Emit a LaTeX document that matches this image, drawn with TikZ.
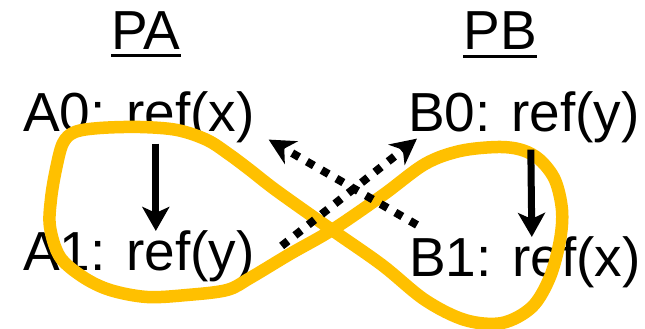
\documentclass[tikz,border=0pt]{standalone}
\usepackage{fontspec}
\setmainfont{Liberation Sans}
\usepackage{xcolor}
\usetikzlibrary{arrows.meta}
\definecolor{loopgold}{HTML}{FFC000}
\tikzstyle{instr}=[inner sep=0pt, anchor=base west, font=\fontsize{55}{66}\selectfont]
\tikzstyle{proc}=[inner sep=0pt, anchor=base, font=\fontsize{55}{66}\selectfont]
\tikzstyle{uline}=[line width=3pt]
\tikzstyle{po}=[line width=7pt, -{Stealth[length=24pt,width=27pt,inset=6pt]}]
\tikzstyle{rf}=[line width=8pt, dash pattern=on 8pt off 9pt, -{Stealth[length=26pt,width=26pt,inset=8pt]}]
\tikzstyle{eightloop}=[line width=12.5pt, loopgold, line join=round]

\begin{document}
\begin{tikzpicture}[x=1pt,y=1pt]
	\useasboundingbox (0,0) rectangle (645,329);
	\node[proc] (pa) at (146,279) {PA};
	\node[proc] (pb) at (500,279) {PB};
	\draw[uline] ([yshift=-6pt]pa.base west) -- ([yshift=-6pt]pa.base east);
	\draw[uline] ([yshift=-7pt]pb.base west) -- ([yshift=-7pt]pb.base east);
%
	\node[instr] (a0) at (23,197) {A0: ref(x)};
	\node[instr] (a1) at (23,58) {A1: ref(y)};
	\node[instr] (b0) at (408,197) {B0: ref(y)};
	\node[instr] (b1) at (409,52) {B1: ref(x)};
%
	\draw[eightloop] plot[smooth cycle, tension=0.55] coordinates {
		(332,99) (383,134) (425,165) (460,178) (498,182) (522,179)
		(540,169) (555,149) (562,119) (560,89) (550,52) (532,22)
		(502,6) (465,9) (425,29) (382,64) (332,99) (277,138)
		(250,159) (230,174) (207,189) (177,199) (140,202) (100,201)
		(75,197) (63,186) (56,160) (51,130) (50,102) (60,72)
		(83,52) (110,39) (147,32) (187,34) (227,39) (250,51) (290,75)};
%
	\draw[po] ([xshift=17pt]a0.south) -- ([xshift=17pt]a1.north);
	\draw[po] ([xshift=7pt,yshift=-6pt]b0.south) -- ([xshift=7pt]b1.north);
%
	\draw[rf] ([shift={(8pt,12pt)}]b1.north west) -- ([shift={(14pt,4pt)}]a0.south east);
	\draw[rf] ([shift={(27pt,-15pt)}]a1.north east) -- ([shift={(9pt,5pt)}]b0.south west);
\end{tikzpicture}
\end{document}
